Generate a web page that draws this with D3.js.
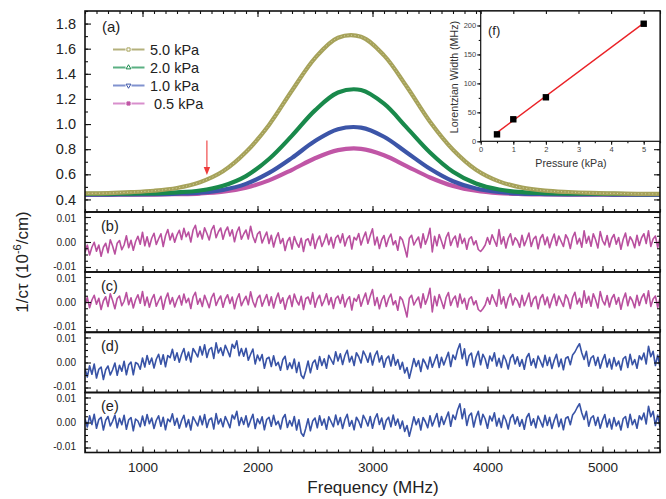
<!DOCTYPE html>
<html>
<head>
<meta charset="utf-8">
<script src="https://cdn.jsdelivr.net/npm/d3@7"></script>
<style>
  body { margin: 0; background: #fff; }
</style>
</head>
<body>
<svg id="chart" width="666" height="499"></svg>
<script>
// ---- data ----
// panel (a): ring-down loss vs frequency, sampled every 200 MHz
var freq = [500, 700, 900, 1100, 1300, 1500, 1700, 1900, 2100, 2300, 2500, 2700, 2900,
            3100, 3300, 3500, 3700, 3900, 4100, 4300, 4500, 4700, 4900, 5100, 5300, 5500];
var kpa50 = [0.448, 0.451, 0.458, 0.469, 0.491, 0.537, 0.624, 0.777, 0.993, 1.267, 1.525, 1.687, 1.695,
             1.547, 1.295, 1.019, 0.796, 0.637, 0.544, 0.494, 0.470, 0.459, 0.452, 0.448, 0.445, 0.444];
var kpa20 = [0.444, 0.445, 0.447, 0.449, 0.456, 0.471, 0.509, 0.586, 0.722, 0.908, 1.109, 1.251, 1.271,
             1.162, 0.970, 0.774, 0.621, 0.527, 0.479, 0.458, 0.451, 0.447, 0.446, 0.444, 0.443, 0.443];
var kpa10 = [0.439, 0.439, 0.440, 0.442, 0.446, 0.454, 0.476, 0.524, 0.611, 0.731, 0.865, 0.959, 0.972,
             0.899, 0.772, 0.644, 0.545, 0.487, 0.459, 0.447, 0.443, 0.441, 0.440, 0.439, 0.439, 0.439];
var kpa05 = [0.437, 0.437, 0.438, 0.439, 0.442, 0.447, 0.461, 0.494, 0.552, 0.636, 0.728, 0.793, 0.803,
             0.752, 0.664, 0.575, 0.508, 0.469, 0.450, 0.443, 0.440, 0.439, 0.438, 0.437, 0.437, 0.437];
var seriesLabels = ["5.0 kPa", "2.0 kPa", "1.0 kPa", " 0.5 kPa"];

// panels (b)-(e): fit residuals, in units of 1e-4 (x 10^-6/cm), every 20 MHz
var residFreq = [
  500,520,540,560,580,600,620,640,660,680, 700,720,740,760,780,800,820,840,860,880,
  900,920,940,960,980,1000,1020,1040,1060,1080, 1100,1120,1140,1160,1180,1200,1220,1240,1260,1280,
  1300,1320,1340,1360,1380,1400,1420,1440,1460,1480, 1500,1520,1540,1560,1580,1600,1620,1640,1660,1680,
  1700,1720,1740,1760,1780,1800,1820,1840,1860,1880, 1900,1920,1940,1960,1980,2000,2020,2040,2060,2080,
  2100,2120,2140,2160,2180,2200,2220,2240,2260,2280, 2300,2320,2340,2360,2380,2400,2420,2440,2460,2480,
  2500,2520,2540,2560,2580,2600,2620,2640,2660,2680, 2700,2720,2740,2760,2780,2800,2820,2840,2860,2880,
  2900,2920,2940,2960,2980,3000,3020,3040,3060,3080, 3100,3120,3140,3160,3180,3200,3220,3240,3260,3280,
  3300,3320,3340,3360,3380,3400,3420,3440,3460,3480, 3500,3520,3540,3560,3580,3600,3620,3640,3660,3680,
  3700,3720,3740,3760,3780,3800,3820,3840,3860,3880, 3900,3920,3940,3960,3980,4000,4020,4040,4060,4080,
  4100,4120,4140,4160,4180,4200,4220,4240,4260,4280, 4300,4320,4340,4360,4380,4400,4420,4440,4460,4480,
  4500,4520,4540,4560,4580,4600,4620,4640,4660,4680, 4700,4720,4740,4760,4780,4800,4820,4840,4860,4880,
  4900,4920,4940,4960,4980,5000,5020,5040,5060,5080, 5100,5120,5140,5160,5180,5200,5220,5240,5260,5280,
  5300,5320,5340,5360,5380,5400,5420,5440,5460,5480, 5500];
var residB = [
  -42,-12,-52,-21,-1,-37,-12,-57,-21,-5, -43,9,-16,-48,-5,6,-31,-12,25,-23,
  7,-33,2,23,-9,39,-15,21,-19,15, 35,-10,13,33,-18,25,50,8,35,-1,
  28,47,10,55,21,40,0,48,67,20, 44,12,57,34,8,48,66,17,41,56,
  11,43,60,24,49,1,39,60,11,32, 48,12,63,22,-2,32,42,-4,19,40,
  -6,27,-20,15,37,-6,14,-34,3,18, -28,22,-4,-21,15,-38,7,13,-14,32,
  -26,7,24,-18,4,32,-11,19,-24,16, 27,-3,33,-16,13,25,-28,19,8,34,
  -12,17,40,-5,26,53,-12,20,-26,9, 26,-18,14,32,-11,5,-33,21,9,-24,
  -60,15,27,-12,6,20,-23,33,-9,17, 55,-40,23,-15,30,3,-26,18,38,-14,
  11,24,-20,32,-6,15,-29,12,21,-11, 5,-30,-38,-27,-12,18,-9,29,6,-17,
  50,-8,21,-24,14,33,-12,17,5,-21, 27,-15,9,36,-18,12,23,-27,15,30,
  -11,20,-23,8,32,-14,24,3,-18,29, 12,-26,18,39,-8,15,-21,45,-5,23,
  -17,33,9,-24,42,6,-12,26,-20,14, 30,-9,18,-29,11,36,-15,21,5,-23,
  27,-14,17,33,-6,45,-18,12,24,-21, 15];
var residC = [
  -12,18,-23,8,27,-9,15,-30,5,21, -18,33,6,-27,14,24,-15,3,38,-11,
  17,-24,9,29,-5,42,-14,20,-21,11, 30,-17,5,23,-29,12,36,-8,18,-20,
  8,26,-12,32,-3,15,-26,21,39,-9, 14,-18,27,3,-23,17,35,-14,9,24,
  -21,12,29,-6,20,-27,11,33,-15,6, 23,-11,41,2,-20,15,27,-17,8,30,
  -14,21,-24,12,36,-5,17,-29,9,26, -18,32,5,-12,23,-30,14,20,-8,38,
  -21,11,27,-15,6,33,-11,18,-26,14, 24,-6,30,-20,9,21,-32,15,3,29,
  -17,12,36,-9,23,50,-14,18,-27,8, 26,-18,14,32,-11,5,-33,21,9,-24,
  -60,15,27,-12,6,20,-23,33,-9,17, 55,-40,23,-15,30,3,-26,18,38,-14,
  11,24,-20,32,-6,15,-29,12,21,-11, 5,-30,-38,-27,-12,18,-9,29,6,-17,
  50,-8,21,-24,14,33,-12,17,5,-21, 27,-15,9,36,-18,12,23,-27,15,30,
  -11,20,-23,8,32,-14,24,3,-18,29, 12,-26,18,39,-8,15,-21,45,-5,23,
  -17,33,9,-24,42,6,-12,26,-20,14, 30,-9,18,-29,11,36,-15,21,5,-23,
  27,-14,17,33,-6,45,-18,12,24,-21, 15];
var residD = [
  -25,-58,-13,-47,-6,-62,-27,-18,-68,-29, -14,-50,-29,-2,-51,-11,-35,5,-49,-9,
  2,-49,0,-6,-27,18,-18,28,-7,18, -22,13,33,-7,31,-17,28,19,53,9,
  39,1,33,56,10,42,2,56,40,22, 64,30,71,20,52,60,16,79,38,59,
  28,69,47,23,73,57,87,27,56,25, 57,9,33,54,-6,30,7,32,-23,15,
  21,-16,27,-12,1,-31,11,25,-28,-1, -24,14,-40,1,-51,-64,-32,6,-41,-2,
  10,-27,24,-12,15,-23,29,11,-7,43, 6,35,-8,28,49,2,25,-12,39,23,
  -2,46,27,1,38,-10,27,46,2,27, -19,15,26,-14,32,-11,12,-27,1,-42,
  -20,-63,-25,16,-16,8,-36,14,-3,-26, 22,-19,7,32,-20,21,-10,16,41,-16,
  30,12,50,75,15,55,-12,27,38,-18, 21,45,-9,33,14,-23,26,6,39,-14,
  17,-20,29,9,-26,18,32,-6,23,-15, 12,-27,20,36,-11,15,-21,26,5,-18,
  29,-12,21,-24,9,33,-17,14,-29,17, 23,-9,30,42,60,75,38,12,45,-15,
  18,27,-12,21,-23,9,32,-18,14,-26, 20,-14,6,-30,15,24,-20,33,-9,12,
  -23,27,11,38,-6,65,23,45,-12,30, -18];
var residE = [
  15,-18,27,-8,33,-23,12,21,-30,9, 24,-14,5,30,-21,17,-9,29,-27,11,
  20,-33,14,6,-17,26,-12,32,-5,18, -24,9,27,-15,21,-29,14,3,35,-11,
  17,-23,8,29,-18,12,-30,23,5,-14, 26,-9,32,-20,11,18,-26,36,-6,15,
  -17,24,3,-21,30,14,45,-12,20,-8, 27,-18,9,33,-24,15,-5,23,-29,12,
  21,-15,29,-9,5,-26,17,32,-20,8, -14,24,-30,11,-42,-55,-23,15,-33,6,
  18,-21,27,-11,14,-27,23,3,-17,30, -9,20,-24,12,33,-15,8,-29,21,5,
  -20,29,11,-14,24,-23,15,35,-8,18, -27,9,21,-17,30,-11,14,-24,6,-36,
  -12,-55,-18,23,-9,15,-30,20,3,-21, 27,-14,11,36,-17,24,-8,18,42,-15,
  30,12,50,75,15,55,-12,27,38,-18, 21,45,-9,33,14,-23,26,6,39,-14,
  17,-20,29,9,-26,18,32,-6,23,-15, 12,-27,20,36,-11,15,-21,26,5,-18,
  29,-12,21,-24,9,33,-17,14,-29,17, 23,-9,30,42,60,75,38,12,45,-15,
  18,27,-12,21,-23,9,32,-18,14,-26, 20,-14,6,-30,15,24,-20,33,-9,12,
  -23,27,11,38,-6,65,23,45,-12,30, -18];
var residLabels = ["(b)", "(c)", "(d)", "(e)"];

// inset (f): Lorentzian width vs pressure, with linear fit
var pressure = [0.5, 1, 2, 5];
var lorentzWidth = [12, 38, 76, 203];
var fitPressure = [0.5, 5];
var fitWidth = [15, 204];

// red arrow marker in panel (a)
var arrowFreq = 1560, arrowFrom = 0.87, arrowTo = 0.595;

// axis ticks
var xMajor = [1000, 2000, 3000, 4000, 5000];
var yTicksA = [0.4, 0.6, 0.8, 1.0, 1.2, 1.4, 1.6, 1.8];
var yTicksRes = [-100, 0, 100];
var insetXTicks = [0, 1, 2, 3, 4, 5];
var insetYTicks = [0, 50, 100, 150, 200];

// ---- drawing ----
var FONT = '"Liberation Sans", Arial, Helvetica, sans-serif';
var svg = d3.select("#chart");

var left = 85, right = 660;
var x = d3.scaleLinear().domain([500, 5500]).range([left, right]);
var yA = d3.scaleLinear().domain([0.3, 1.9]).range([212, 11]);

var xMinor = d3.range(500, 5501, 100);

function tidy(g, size, color) {
    g.attr("font-family", null).attr("font-size", null);
    g.select(".domain").remove();
    g.selectAll("line").attr("stroke", "#111").attr("stroke-width", 1.1);
    g.selectAll("text").attr("fill", color || "#222")
        .style("font-family", FONT).style("font-size", size + "px");
}

// panel (a) curves
var colors = ["#a6a25a", "#19894b", "#3c55a8", "#c056a6"];
var lineA = d3.line()
    .x(function(d, i) { return x(freq[i]); })
    .y(function(d) { return yA(d); })
    .curve(d3.curveCatmullRom.alpha(0.5));

var gA = svg.append("g");
[[kpa05, colors[3]], [kpa10, colors[2]], [kpa20, colors[1]]].forEach(function(s) {
    gA.append("path").attr("d", lineA(s[0])).attr("fill", "none")
        .attr("stroke", s[1]).attr("stroke-width", 4.2).attr("stroke-linejoin", "round");
});
gA.append("path").attr("d", lineA(kpa50)).attr("fill", "none")
    .attr("stroke", colors[0]).attr("stroke-width", 4.2);
gA.append("path").attr("d", lineA(kpa50)).attr("fill", "none")
    .attr("stroke", "#d6d4a2").attr("stroke-width", 1).attr("stroke-dasharray", "1,2.5");

// axes for (a)
var ga;
ga = svg.append("g").attr("transform", "translate(0,212)")
    .call(d3.axisBottom(x).tickValues(xMinor).tickSize(-3).tickFormat(""));
tidy(ga, 10);
ga = svg.append("g").attr("transform", "translate(0,212)")
    .call(d3.axisBottom(x).tickValues(xMajor).tickSize(-6).tickFormat(""));
tidy(ga, 10);
ga = svg.append("g").attr("transform", "translate(0,11)")
    .call(d3.axisTop(x).tickValues(xMinor).tickSize(-3).tickFormat(""));
tidy(ga, 10);
ga = svg.append("g").attr("transform", "translate(0,11)")
    .call(d3.axisTop(x).tickValues(xMajor).tickSize(-6).tickFormat(""));
tidy(ga, 10);
ga = svg.append("g").attr("transform", "translate(" + left + ",0)")
    .call(d3.axisLeft(yA).tickValues(d3.range(0.3, 1.91, 0.1)).tickSize(-3).tickFormat(""));
tidy(ga, 10);
ga = svg.append("g").attr("transform", "translate(" + left + ",0)")
    .call(d3.axisLeft(yA).tickValues(yTicksA).tickSize(-6).tickPadding(9).tickFormat(d3.format(".1f")));
tidy(ga, 14.5);
ga = svg.append("g").attr("transform", "translate(" + right + ",0)")
    .call(d3.axisRight(yA).tickValues(d3.range(0.3, 1.91, 0.1)).tickSize(-3).tickFormat(""));
tidy(ga, 10);
ga = svg.append("g").attr("transform", "translate(" + right + ",0)")
    .call(d3.axisRight(yA).tickValues(yTicksA).tickSize(-6).tickFormat(""));
tidy(ga, 10);

svg.append("rect").attr("x", left).attr("y", 11).attr("width", right - left).attr("height", 201)
    .attr("fill", "none").attr("stroke", "#111").attr("stroke-width", 1.6);

// residual panels
var residSets = [residB, residC, residD, residE];
var residColors = ["#b9509f", "#b9509f", "#3853a6", "#3853a6"];
var panelTops = [212, 272, 332.5, 392.5];
var panelH = 60;

panelTops.forEach(function(top, k) {
    var bottom = top + panelH;
    var y = d3.scaleLinear().domain([-120, 120]).range([bottom, top]);
    var clipId = "clip" + k;
    svg.append("clipPath").attr("id", clipId).append("rect")
        .attr("x", left).attr("y", top).attr("width", right - left).attr("height", panelH);

    var line = d3.line()
        .x(function(d, i) { return x(residFreq[i]); })
        .y(function(d) { return y(d); });
    svg.append("path").attr("clip-path", "url(#" + clipId + ")")
        .attr("d", line(residSets[k])).attr("fill", "none")
        .attr("stroke", residColors[k]).attr("stroke-width", 1.6).attr("stroke-linejoin", "round");

    var g;
    g = svg.append("g").attr("transform", "translate(0," + bottom + ")")
        .call(d3.axisBottom(x).tickValues(xMinor).tickSize(-3).tickFormat(""));
    tidy(g, 10);
    g = svg.append("g").attr("transform", "translate(0," + bottom + ")")
        .call(d3.axisBottom(x).tickValues(xMajor).tickSize(-6).tickPadding(9.5)
            .tickFormat(k === 3 ? d3.format("d") : ""));
    tidy(g, 13.5);
    g = svg.append("g").attr("transform", "translate(" + left + ",0)")
        .call(d3.axisLeft(y).tickValues(d3.range(-100, 101, 25)).tickSize(-3).tickFormat(""));
    tidy(g, 10);
    g = svg.append("g").attr("transform", "translate(" + left + ",0)")
        .call(d3.axisLeft(y).tickValues(yTicksRes).tickSize(-6).tickPadding(9)
            .tickFormat(function(d) { return (d / 10000).toFixed(2); }));
    tidy(g, 10);
    // nudge the stacked -0.01 / 0.01 labels apart slightly
    g.selectAll(".tick text").attr("dy", function(d) {
        return d > 0 ? "0.42em" : d < 0 ? "0.22em" : "0.32em";
    });
    g = svg.append("g").attr("transform", "translate(" + right + ",0)")
        .call(d3.axisRight(y).tickValues(d3.range(-100, 101, 25)).tickSize(-3).tickFormat(""));
    tidy(g, 10);
    g = svg.append("g").attr("transform", "translate(" + right + ",0)")
        .call(d3.axisRight(y).tickValues(yTicksRes).tickSize(-6).tickFormat(""));
    tidy(g, 10);

    svg.append("rect").attr("x", left).attr("y", top).attr("width", right - left).attr("height", panelH)
        .attr("fill", "none").attr("stroke", "#111").attr("stroke-width", 1.6);

    svg.append("text").attr("x", 101).attr("y", top + 18.5).text(residLabels[k])
        .attr("fill", "#222").style("font-family", FONT).style("font-size", "14.5px");
});

// panel labels and axis titles
svg.append("text").attr("x", 102).attr("y", 32).text("(a)")
    .attr("fill", "#222").style("font-family", FONT).style("font-size", "15px");

svg.append("text").attr("x", 373).attr("y", 492.5).attr("text-anchor", "middle")
    .text("Frequency (MHz)").attr("fill", "#222")
    .style("font-family", FONT).style("font-size", "17px");

var yTitle = svg.append("text").attr("transform", "translate(28,262) rotate(-90)")
    .attr("text-anchor", "middle").attr("fill", "#222")
    .style("font-family", FONT).style("font-size", "17px");
yTitle.append("tspan").text("1/c\u03c4 (10");
yTitle.append("tspan").attr("dy", -7).style("font-size", "11px").text("-6");
yTitle.append("tspan").attr("dy", 7).text("/cm)");

// legend
var legendColors = ["#b4b17c", "#5bb083", "#8192cf", "#d88fcc"];
var legendSymbols = [d3.symbolSquare, d3.symbolTriangle, d3.symbolTriangle, d3.symbolSquare];
seriesLabels.forEach(function(lab, i) {
    var cy = 49.5 + i * 18;
    var g = svg.append("g");
    g.append("line").attr("x1", 113).attr("x2", 125.5).attr("y1", cy).attr("y2", cy)
        .attr("stroke", legendColors[i]).attr("stroke-width", 2);
    g.append("line").attr("x1", 131.5).attr("x2", 144.5).attr("y1", cy).attr("y2", cy)
        .attr("stroke", legendColors[i]).attr("stroke-width", 2);
    g.append("path").attr("d", d3.symbol().type(legendSymbols[i]).size(10)())
        .attr("transform", "translate(128.5," + cy + ")" + (i === 2 ? " rotate(180)" : ""))
        .attr("fill", i === 3 ? colors[3] : "#fff")
        .attr("stroke", colors[i]).attr("stroke-width", 1);
    g.append("text").attr("x", 150).attr("y", cy + 5.2).text(lab)
        .attr("fill", "#222").style("font-family", FONT).style("font-size", "14.5px")
        .style("white-space", "pre");
});

// red arrow
var ax = x(arrowFreq);
svg.append("line").attr("x1", ax).attr("x2", ax).attr("y1", yA(arrowFrom)).attr("y2", yA(arrowTo) - 6)
    .attr("stroke", "#ee3b3b").attr("stroke-width", 1.1);
svg.append("path")
    .attr("d", "M" + (ax - 3.2) + "," + (yA(arrowTo) - 8) + "L" + (ax + 3.2) + "," + (yA(arrowTo) - 8) +
        "L" + ax + "," + yA(arrowTo) + "Z")
    .attr("fill", "#ee3b3b");

// inset (f)
var iL = 480.7, iR = 660, iT = 11, iB = 141.3;
var xI = d3.scaleLinear().domain([0, 5.5]).range([iL, iR]);
var yI = d3.scaleLinear().domain([0, 225]).range([iB, iT]);

svg.append("rect").attr("x", iL).attr("y", iT).attr("width", iR - iL).attr("height", iB - iT)
    .attr("fill", "#fff");

var gi;
gi = svg.append("g").attr("transform", "translate(0," + iB + ")")
    .call(d3.axisBottom(xI).tickValues(d3.range(0, 5.6, 0.5)).tickSize(2).tickFormat(""));
tidy(gi, 7);
gi = svg.append("g").attr("transform", "translate(0," + iB + ")")
    .call(d3.axisBottom(xI).tickValues(insetXTicks).tickSize(3.5).tickPadding(1.5).tickFormat(d3.format("d")));
tidy(gi, 7.5, "#444");
gi = svg.append("g").attr("transform", "translate(0," + iT + ")")
    .call(d3.axisTop(xI).tickValues(insetXTicks).tickSize(-3).tickFormat(""));
tidy(gi, 7);
gi = svg.append("g").attr("transform", "translate(" + iL + ",0)")
    .call(d3.axisLeft(yI).tickValues(d3.range(0, 226, 25)).tickSize(2).tickFormat(""));
tidy(gi, 7);
gi = svg.append("g").attr("transform", "translate(" + iL + ",0)")
    .call(d3.axisLeft(yI).tickValues(insetYTicks).tickSize(3.5).tickPadding(1).tickFormat(d3.format("d")));
tidy(gi, 7.5, "#444");

svg.append("rect").attr("x", iL).attr("y", iT).attr("width", iR - iL).attr("height", iB - iT)
    .attr("fill", "none").attr("stroke", "#111").attr("stroke-width", 1.2);

var fitLine = d3.line()
    .x(function(d, i) { return xI(fitPressure[i]); })
    .y(function(d) { return yI(d); });
svg.append("path").attr("d", fitLine(fitWidth)).attr("fill", "none")
    .attr("stroke", "#ea2227").attr("stroke-width", 1.4);

svg.append("g").selectAll("rect").data(lorentzWidth).enter().append("rect")
    .attr("x", function(d, i) { return xI(pressure[i]) - 3.2; })
    .attr("y", function(d) { return yI(d) - 3.2; })
    .attr("width", 6.4).attr("height", 6.4).attr("fill", "#000");

svg.append("text").attr("x", 488).attr("y", 35).text("(f)")
    .attr("fill", "#222").style("font-family", FONT).style("font-size", "13px");
svg.append("text").attr("x", 571).attr("y", 167).attr("text-anchor", "middle")
    .text("Pressure (kPa)").attr("fill", "#333")
    .style("font-family", FONT).style("font-size", "10.7px");
svg.append("text").attr("transform", "translate(458,77) rotate(-90)").attr("text-anchor", "middle")
    .text("Lorentzian Width (MHz)").attr("fill", "#333")
    .style("font-family", FONT).style("font-size", "10.7px");
</script>
</body>
</html>
